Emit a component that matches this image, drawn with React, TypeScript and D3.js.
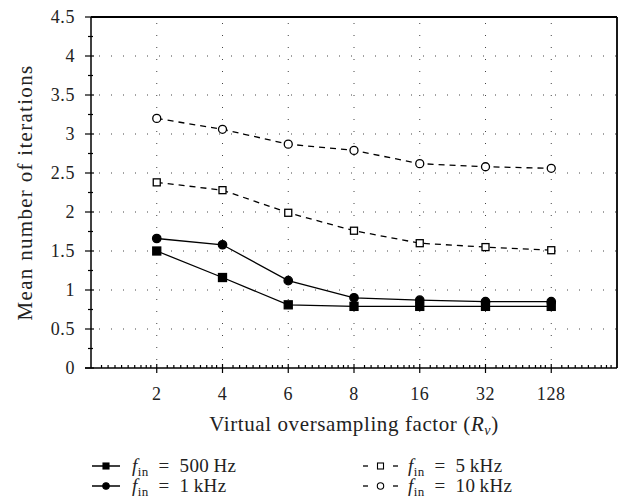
import React from "react";
import * as d3 from "d3";

const categories = ["2", "4", "6", "8", "16", "32", "128"];
const yTicks = [0, 0.5, 1, 1.5, 2, 2.5, 3, 3.5, 4, 4.5];
const f500 = [1.5, 1.16, 0.81, 0.79, 0.79, 0.79, 0.79];
const f1k = [1.66, 1.58, 1.12, 0.9, 0.87, 0.85, 0.85];
const f5k = [2.38, 2.28, 1.99, 1.76, 1.6, 1.55, 1.51];
const f10k = [3.2, 3.06, 2.87, 2.79, 2.62, 2.58, 2.56];
const minorFrac = [0.16, 0.26, 0.365, 0.465, 0.565, 0.665, 0.76, 0.84, 0.91];

const W = 629, H = 502;
const L = 91, R = 617, T = 17, B = 368;
const FONT = "Liberation Serif, Times New Roman, DejaVu Serif, serif";

const x = d3.scaleLinear().domain([-1, categories.length]).range([L, R]);
const y = d3.scaleLinear().domain([0, 4.5]).range([B, T]);

type Series = { name: string; values: number[]; marker: "sq" | "ci"; fill: boolean; dashed: boolean; label: string };
const series: Series[] = [
  { name: "500", values: f500, marker: "sq", fill: true, dashed: false, label: "500\u2009Hz" },
  { name: "1k", values: f1k, marker: "ci", fill: true, dashed: false, label: "1\u2009kHz" },
  { name: "5k", values: f5k, marker: "sq", fill: false, dashed: true, label: "5\u2009kHz" },
  { name: "10k", values: f10k, marker: "ci", fill: false, dashed: true, label: "10\u2009kHz" },
];

function Marker({ cx, cy, s }: { cx: number; cy: number; s: Series }) {
  if (s.marker === "sq") {
    const h = s.fill ? 4 : 3.5;
    return <rect x={cx - h} y={cy - h} width={2 * h} height={2 * h} fill={s.fill ? "#000" : "#fff"} stroke="#000" strokeWidth={1.3} />;
  }
  return <circle cx={cx} cy={cy} r={s.fill ? 4.2 : 4} fill={s.fill ? "#000" : "#fff"} stroke="#000" strokeWidth={1.3} />;
}

function LegendItem({ s, lx, ly }: { s: Series; lx: number; ly: number }) {
  const mx = lx + (s.dashed ? 17.5 : 14);
  return (
    <g>
      {s.dashed ? (
        <g stroke="#000" strokeWidth={1.3}>
          <line x1={lx} x2={lx + 5} y1={ly} y2={ly} />
          <line x1={lx + 30} x2={lx + 35} y1={ly} y2={ly} />
        </g>
      ) : (
        <line x1={lx} x2={lx + 28} y1={ly} y2={ly} stroke="#000" strokeWidth={1.5} />
      )}
      {s.marker === "sq" ? (
        <rect x={mx - 3} y={ly - 3} width={6} height={6} fill={s.fill ? "#000" : "#fff"} stroke="#000" strokeWidth={1.1} />
      ) : (
        <circle cx={mx} cy={ly} r={3.2} fill={s.fill ? "#000" : "#fff"} stroke="#000" strokeWidth={1.1} />
      )}
      <text x={lx + (s.dashed ? 45 : 40)} y={ly + 6} style={{ fontFamily: FONT, fontSize: 19, letterSpacing: 0.4 }} fill="#222">
        <tspan fontStyle="italic">f</tspan>
        <tspan fontSize={13} dy={4}>in</tspan>
        <tspan dy={-4}>{"\u2002=\u2002" + s.label}</tspan>
      </text>
    </g>
  );
}

export default function App() {
  const line = d3.line<number>().x((_, i) => x(i)).y((d) => y(d));
  const minorX: number[] = [];
  for (let i = -1; i < categories.length; i++) {
    for (const f of minorFrac) minorX.push(x(i + f));
  }
  const minorY: number[] = d3.range(0.25, 4.5, 0.5);
  return (
    <svg width={W} height={H} style={{ position: "absolute", left: 0, top: 0, fontFamily: FONT }}>
      <rect width={W} height={H} fill="#fff" />
      {/* grid */}
      <g stroke="#444" strokeWidth={1} strokeDasharray="1,11">
        {yTicks.slice(1, -1).map((t) => (
          <line key={"gy" + t} x1={L + 8} x2={R} y1={y(t)} y2={y(t)} />
        ))}
        {categories.map((c, i) => (
          <line key={"gx" + c} x1={x(i)} x2={x(i)} y1={T + 6} y2={B} />
        ))}
      </g>
      {/* frame */}
      <g stroke="#000" fill="none">
        <line x1={L} x2={R} y1={T} y2={T} strokeWidth={1.8} />
        <line x1={R} x2={R} y1={T} y2={B} strokeWidth={1.8} />
        <line x1={L} x2={L} y1={T} y2={B} strokeWidth={1.5} />
        <line x1={L - 6} x2={R} y1={B} y2={B} strokeWidth={1.5} />
      </g>
      {/* ticks */}
      <g stroke="#000" strokeWidth={1.2}>
        {yTicks.map((t) => (
          <line key={"yt" + t} x1={L - 6} x2={L + 3} y1={y(t)} y2={y(t)} />
        ))}
        {minorY.map((t) => (
          <line key={"ym" + t} x1={L - 3} x2={L + 2} y1={y(t)} y2={y(t)} />
        ))}
        {categories.map((c, i) => (
          <line key={"xt" + c} x1={x(i)} x2={x(i)} y1={B - 4} y2={B + 5} />
        ))}
        {minorX.map((v, i) => (
          <line key={"xm" + i} x1={v} x2={v} y1={B - 3} y2={B} />
        ))}
      </g>
      {/* tick labels */}
      <g style={{ fontFamily: FONT, fontSize: 18, letterSpacing: 0.6 }} fill="#222">
        {yTicks.map((t) => (
          <text key={"yl" + t} x={L - 16} y={y(t) + 6} textAnchor="end">
            {String(t)}
          </text>
        ))}
        {categories.map((c, i) => (
          <text key={"xl" + c} x={x(i)} y={B + 32} textAnchor="middle">
            {c}
          </text>
        ))}
      </g>
      {/* series */}
      {series.map((s) => (
        <g key={s.name}>
          <path d={line(s.values) || ""} fill="none" stroke="#000" strokeWidth={1.3} strokeDasharray={s.dashed ? "6,5" : undefined} />
          {s.values.map((v, i) => (
            <Marker key={i} cx={x(i)} cy={y(v)} s={s} />
          ))}
        </g>
      ))}
      {/* axis titles */}
      <text x={(L + R) / 2} y={431} textAnchor="middle" style={{ fontFamily: FONT, fontSize: 21, letterSpacing: 0.6 }} fill="#222">
        Virtual oversampling factor (<tspan fontStyle="italic">R</tspan>
        <tspan fontStyle="italic" fontSize={14} dy={4}>v</tspan>
        <tspan dy={-4}>)</tspan>
      </text>
      <text transform={`translate(32, ${(T + B) / 2}) rotate(-90)`} textAnchor="middle" style={{ fontFamily: FONT, fontSize: 21, letterSpacing: 1.3 }} fill="#222">
        Mean number of iterations
      </text>
      {/* legend */}
      <LegendItem s={series[0]} lx={92} ly={466} />
      <LegendItem s={series[1]} lx={92} ly={486} />
      <LegendItem s={series[2]} lx={363} ly={466} />
      <LegendItem s={series[3]} lx={363} ly={486} />
    </svg>
  );
}
